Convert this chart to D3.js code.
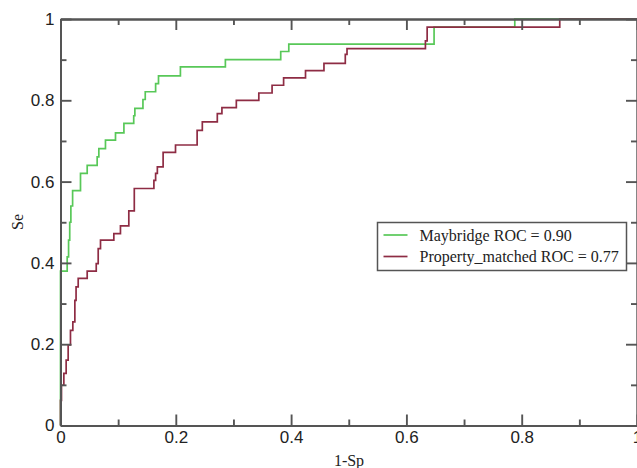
<!DOCTYPE html>
<html>
<head>
<meta charset="utf-8">
<script src="https://cdn.jsdelivr.net/npm/d3@7"></script>
<style>
  body { margin: 0; background: #fff; }
  svg { display: block; font-family: 'Liberation Serif', 'DejaVu Serif', serif; }
</style>
</head>
<body>
<svg></svg>
<script>
// ROC steps: [1-Sp, Se] where the curve jumps up (drawn with stepAfter)
const maybridge = [
  [0, 0], [0, 0.38], [0.0116, 0.415], [0.014, 0.456], [0.016, 0.5], [0.018, 0.54],
  [0.021, 0.578], [0.0347, 0.62], [0.0463, 0.64], [0.0636, 0.661], [0.0665, 0.681],
  [0.078, 0.702], [0.0954, 0.72], [0.11, 0.743], [0.127, 0.762], [0.129, 0.78],
  [0.143, 0.802], [0.147, 0.821], [0.165, 0.841], [0.17, 0.86], [0.208, 0.882],
  [0.286, 0.9], [0.382, 0.92], [0.396, 0.938], [0.648, 0.98], [0.788, 1], [1, 1],
];
const propertyMatched = [
  [0, 0], [0, 0.062], [0.0017, 0.099], [0.0058, 0.128], [0.0098, 0.161],
  [0.0133, 0.198], [0.0173, 0.234], [0.0214, 0.255], [0.0249, 0.308], [0.027, 0.341],
  [0.0307, 0.362], [0.0463, 0.38], [0.062, 0.398], [0.0654, 0.435], [0.0694, 0.456],
  [0.0925, 0.472], [0.104, 0.491], [0.1185, 0.528], [0.128, 0.583], [0.162, 0.603],
  [0.165, 0.62], [0.168, 0.636], [0.178, 0.672], [0.1995, 0.69], [0.237, 0.726],
  [0.246, 0.747], [0.272, 0.767], [0.28, 0.782], [0.305, 0.8], [0.344, 0.818],
  [0.367, 0.837], [0.387, 0.855], [0.425, 0.873], [0.457, 0.891], [0.494, 0.913],
  [0.497, 0.927], [0.633, 0.946], [0.636, 0.98], [0.866, 1], [1, 1],
];
const majorTicks = [0, 0.2, 0.4, 0.6, 0.8, 1];
const minorTicks = [0.1, 0.3, 0.5, 0.7, 0.9];
const tickLabels = ['0', '0.2', '0.4', '0.6', '0.8', '1'];
const seriesNames = ['Maybridge ROC = 0.90', 'Property_matched ROC = 0.77'];
const seriesColors = ['#58c858', '#8e2c44'];

const width = 637;
const height = 468;
const axisColor = '#555';

const svg = d3.select('svg').attr('width', width).attr('height', height);

const x = d3.scaleLinear().domain([0, 1]).range([60.5, 637]);
const y = d3.scaleLinear().domain([0, 1]).range([425.5, 19]);

const fmt = d => tickLabels[majorTicks.indexOf(d)];

const styleAxis = g => {
  g.selectAll('path, line').attr('stroke', axisColor).attr('stroke-width', 1.9);
  g.selectAll('text').attr('fill', '#222').style('font-size', '17px');
};

// curves first, frame on top
const line = d3.line()
  .x(d => x(d[0]))
  .y(d => y(d[1]))
  .curve(d3.curveStepAfter);

[maybridge, propertyMatched].forEach((s, i) => {
  svg.append('path')
    .datum(s)
    .attr('fill', 'none')
    .attr('stroke', seriesColors[i])
    .attr('stroke-width', 1.7)
    .attr('d', line);
});

// bottom
svg.append('g').attr('transform', `translate(0,${y(0)})`)
  .call(d3.axisBottom(x).tickValues(majorTicks).tickFormat(fmt).tickSize(-11).tickSizeOuter(0).tickPadding(5))
  .call(styleAxis);
svg.append('g').attr('transform', `translate(0,${y(0)})`)
  .call(d3.axisBottom(x).tickValues(minorTicks).tickFormat('').tickSize(-6).tickSizeOuter(0))
  .call(styleAxis);
// top
svg.append('g').attr('transform', `translate(0,${y(1)})`)
  .call(d3.axisTop(x).tickValues(majorTicks).tickFormat('').tickSize(-11).tickSizeOuter(0))
  .call(styleAxis);
svg.append('g').attr('transform', `translate(0,${y(1)})`)
  .call(d3.axisTop(x).tickValues(minorTicks).tickFormat('').tickSize(-6).tickSizeOuter(0))
  .call(styleAxis);
// left
svg.append('g').attr('transform', `translate(${x(0)},0)`)
  .call(d3.axisLeft(y).tickValues(majorTicks).tickFormat(fmt).tickSize(-11).tickSizeOuter(0).tickPadding(6))
  .call(styleAxis);
svg.append('g').attr('transform', `translate(${x(0)},0)`)
  .call(d3.axisLeft(y).tickValues(minorTicks).tickFormat('').tickSize(-6).tickSizeOuter(0))
  .call(styleAxis);
// right
svg.append('g').attr('transform', `translate(${x(1)},0)`)
  .call(d3.axisRight(y).tickValues(majorTicks).tickFormat('').tickSize(-11).tickSizeOuter(0))
  .call(styleAxis);
svg.append('g').attr('transform', `translate(${x(1)},0)`)
  .call(d3.axisRight(y).tickValues(minorTicks).tickFormat('').tickSize(-6).tickSizeOuter(0))
  .call(styleAxis);

// axis titles
svg.append('text')
  .attr('x', 349).attr('y', 466)
  .attr('text-anchor', 'middle')
  .attr('fill', '#222')
  .style('font-size', '16px')
  .text('1-Sp');

svg.append('text')
  .attr('transform', 'translate(23,222) rotate(-90)')
  .attr('text-anchor', 'middle')
  .attr('fill', '#222')
  .style('font-size', '16px')
  .text('Se');

// legend
const legend = svg.append('g').attr('transform', 'translate(377.5,222.5)');
legend.append('rect')
  .attr('width', 249).attr('height', 48)
  .attr('fill', '#fff')
  .attr('stroke', '#555')
  .attr('stroke-width', 1.5);

seriesNames.forEach((name, i) => {
  const ly = 12.5 + i * 21.5;
  legend.append('line')
    .attr('x1', 6).attr('x2', 30)
    .attr('y1', ly).attr('y2', ly)
    .attr('stroke', seriesColors[i])
    .attr('stroke-width', 1.7);
  legend.append('text')
    .attr('x', 42).attr('y', ly + 5.5)
    .attr('fill', '#222')
    .style('font-size', '16px')
    .text(name);
});
</script>
</body>
</html>
